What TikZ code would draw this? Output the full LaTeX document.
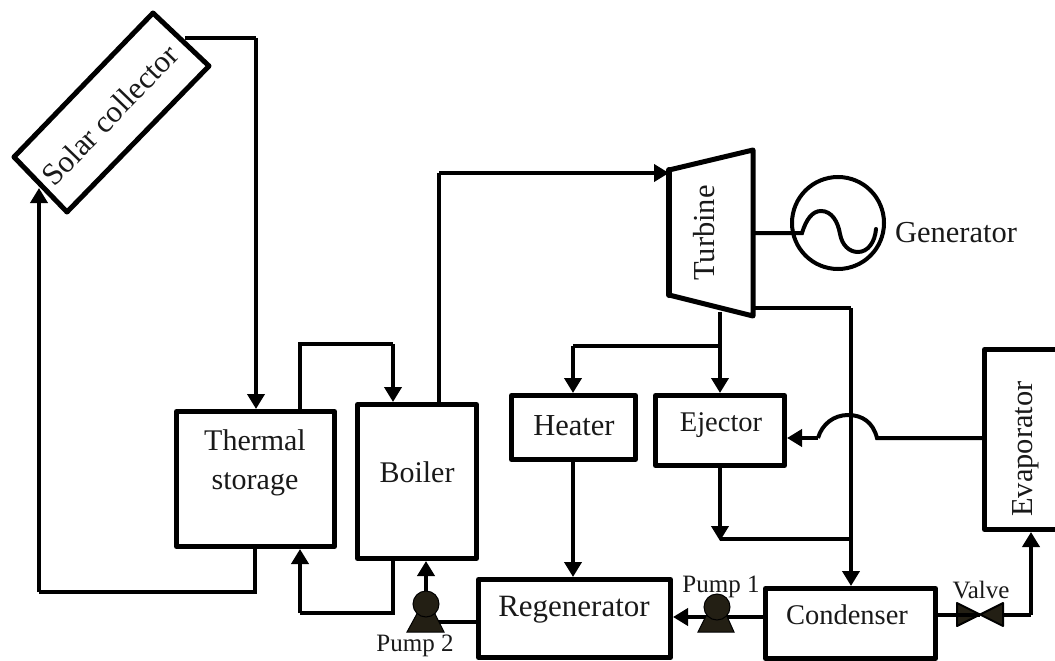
\documentclass[tikz,border=0pt]{standalone}
\usepackage{fontspec}
\setmainfont{Liberation Serif}
\usetikzlibrary{arrows.meta,calc}
\definecolor{pumpc}{HTML}{231F14}
\newcommand{\fs}[1]{\fontsize{#1}{#1}\selectfont}
\tikzset{
  x=1pt,y=-1pt,
  boxn/.style={draw=black,line width=5pt,rectangle,inner sep=0pt,line join=round},
  txt/.style={inner sep=0pt,outer sep=0pt,text=black!90,font=\fs{30}},
  smalltxt/.style={txt,font=\fs{25}},
  pipe/.style={draw=black,line width=4pt,line join=miter},
  flow/.style={pipe,-{Triangle[length=15pt,width=17pt]}},
  thick outline/.style={draw=black,line width=5pt,line join=round},
  pumpfill/.style={fill=pumpc,draw=black,line width=1pt}
}
\begin{document}
\begin{tikzpicture}
\useasboundingbox (0,0) rectangle (1055,661);
% Solar collector
\coordinate (sl) at (14,157);
\coordinate (st) at (153,13);
\coordinate (sr) at (209,66);
\coordinate (sb) at (67,212);
\draw[thick outline] (sl)--(st)--(sr)--(sb)--cycle;
\node[txt,rotate=46,font=\fs{31}] (solar) at (110,115) {Solar collector};
\coordinate (solarout) at (185,38);
\coordinate (solarin) at (39,188);
% boxes
\node[boxn,minimum width=158pt,minimum height=135pt] (ts) at (255.5,479) {};
\node[txt] (tslab) at (255,464) {\begin{tabular}{@{}c@{}}Thermal\\[9pt]storage\end{tabular}};
\node[boxn,minimum width=119pt,minimum height=154pt] (boiler) at (417,481.5) {};
\node[txt] (boilerlab) at (417,472) {Boiler};
\node[boxn,minimum width=124pt,minimum height=64pt] (heater) at (573.5,427.5) {};
\node[txt,font=\fs{30.5}] (heaterlab) at (574,426) {Heater};
\node[boxn,minimum width=129pt,minimum height=70pt] (ejector) at (720,430.5) {};
\node[txt,font=\fs{28.5}] (ejectorlab) at (721,425) {Ejector};
\node[boxn,minimum width=192pt,minimum height=78pt] (regen) at (574.5,618.5) {};
\node[txt,font=\fs{31}] (regenlab) at (574,610) {Regenerator};
\node[boxn,minimum width=170pt,minimum height=70pt] (cond) at (850.5,623.5) {};
\node[txt,font=\fs{28.5}] (condlab) at (847,614.5) {Condenser};
% evaporator, open to the right edge
\coordinate (evtop) at (1055,349.5);
\coordinate (evbot) at (1055,529.5);
\coordinate (evw) at (982,438);
\draw[thick outline] (evtop)--(984.5,349.5)--(984.5,529.5)--(evbot);
\node[txt,rotate=90,font=\fs{30.5}] (evlab) at (1026,449) {Evaporator};
\coordinate (evs) at (1031,532);
% turbine
\coordinate (t1) at (669,170);
\coordinate (t2) at (753,150);
\coordinate (t3) at (753,316);
\coordinate (t4) at (669,295);
\draw[thick outline] (t1)--(t2)--(t3)--(t4)--cycle;
\draw[draw=black,line width=6pt,line cap=round] (t1)--(t4);
\node[txt,rotate=90,font=\fs{30.5}] (turblab) at (704,233) {Turbine};
% generator
\node[circle,draw=black,line width=4pt,minimum size=92pt,inner sep=0pt] (gen) at (838,223) {};
\node[txt,font=\fs{30.5},anchor=west] (genlab) at (895,233) {Generator};
\coordinate (turbgen) at (753,233);
\coordinate (wave) at (802,233);
\draw[pipe,line cap=round] (turbgen)--(wave)
  .. controls (806,220) and (812,211) .. (821,211)
  .. controls (832,211) and (838,222) .. (840,234)
  .. controls (842,245) and (849,252) .. (858,252)
  .. controls (868,252) and (875,242) .. (876,229);
% valve
\coordinate (vc) at (980,615);
\draw[pumpfill,line width=2pt,line join=round] (957,603)--(1003,626)--(1003,603)--(957,626)--cycle;
\node[smalltxt] (valvelab) at (981,590) {Valve};
% pumps
\coordinate (p1) at (717,607);
\coordinate (p2) at (426,604);
% connectors
\coordinate (a1) at (256,38);
\draw[pipe] (solarout)--(a1);
\draw[flow] (a1)--(ts.north -| a1);
\coordinate (a2) at (255,592);
\coordinate (a0) at (39,592);
\draw[pipe] (ts.south -| a2)--(a2)--(a0);
\draw[flow] (a0)--(solarin);
\coordinate (a3) at (300,344);
\coordinate (a4) at (393,344);
\draw[pipe] (ts.north -| a3)--(a3)--(a4);
\draw[flow] (a4)--(boiler.north -| a4);
\coordinate (a5) at (439,173);
\draw[pipe] (boiler.north -| a5)--(a5);
\draw[flow] (a5)--(t1 |- a5);
\coordinate (a6) at (393,613);
\coordinate (a7) at (300,613);
\draw[pipe] (boiler.south -| a6)--(a6)--(a7);
\draw[flow] (a7)--(ts.south -| a7);
\draw[flow] (p2)--(boiler.south -| p2);
\coordinate (p2pipe) at (426,622);
\draw[pipe] (regen.west |- p2pipe)--(p2pipe);
\coordinate (a8) at (720,312);
\draw[flow] (a8)--(ejector.north -| a8);
\coordinate (a9) at (720,346);
\coordinate (a10) at (573,346);
\draw[pipe] (a9)--(a10);
\draw[flow] (a10)--(heater.north -| a10);
\draw[flow] (heater.south -| a10)--(regen.north -| a10);
\coordinate (a11) at (851,308);
\draw[pipe] (t2 |- a11)--(a11);
\draw[flow] (a11)--(cond.north -| a11);
\coordinate (a12) at (720,541);
\draw[flow] (ejector.south -| a12)--(a12);
\coordinate (a16) at (720,539);
\draw[pipe] (a16)--(a16 -| a11);
\coordinate (a13) at (1031,615);
\draw[pipe] (cond.east |- a13)--(vc |- a13);
\draw[pipe] (1003,615)--(a13);
\draw[flow] (a13)--(evs);
\coordinate (a14) at (818,438);
\coordinate (a15) at (877,438);
\draw[pipe] (evw)--(a15) .. controls (873,422) and (862,415) .. (848,415) .. controls (834,415) and (822,424) .. (a14);
\draw[flow] (a14)--(ejector.east |- a14);
\coordinate (p1pipe) at (717,617);
\draw[flow] (cond.west |- p1pipe)--(regen.east |- p1pipe);
% pump bodies
\draw[pumpfill] (407,632)--(444,632)--(433,610)--(419,610)--cycle;
\draw[pumpfill] (p2) circle[radius=13];
\draw[pumpfill] (698,632)--(734,632)--(725,612)--(708,612)--cycle;
\draw[pumpfill] (p1) circle[radius=13];
\node[smalltxt] (p1lab) at (721,587) {Pump 1};
\node[smalltxt] (p2lab) at (415,646) {Pump 2};
\end{tikzpicture}
\end{document}
